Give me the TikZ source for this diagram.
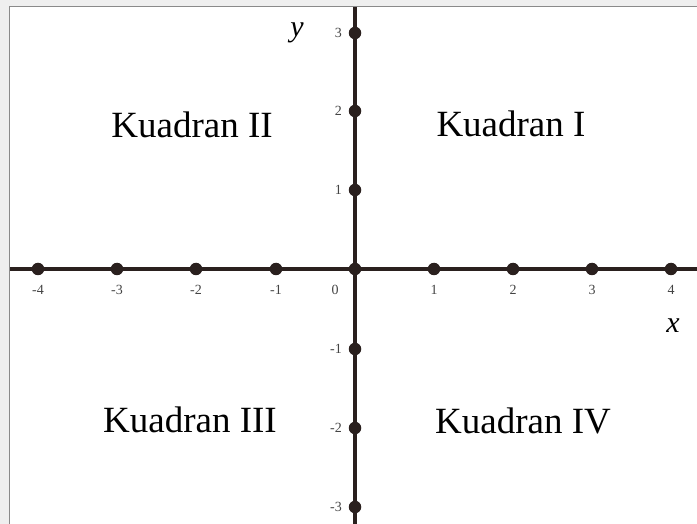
\documentclass[tikz,border=0pt]{standalone}
\usepackage{fontspec}
\setmainfont{Liberation Serif}
\definecolor{axiscol}{HTML}{2A201E}
\definecolor{ticktxt}{HTML}{444444}
\definecolor{bandcol}{HTML}{EFEFEF}
\definecolor{framecol}{HTML}{8A8A8A}
\begin{document}
\begin{tikzpicture}[x=1pt,y=-1pt,
  axisline/.style={draw=axiscol,line width=3.2pt},
  dot/.style={circle,fill=axiscol,inner sep=0pt,minimum size=12.5pt},
  ticklab/.style={text=ticktxt,font=\fontsize{14}{14}\selectfont,inner sep=0pt},
  quad/.style={font=\fontsize{37}{37}\selectfont,inner sep=0pt,text=black},
  axlab/.style={font=\fontsize{30}{30}\selectfont\itshape,inner sep=0pt}]
\useasboundingbox (0,0) rectangle (697,524);
% frame
\fill[bandcol] (0,0) rectangle (697,6);
\fill[bandcol] (0,0) rectangle (9,524);
\draw[framecol,line width=1.2pt] (9.6,524) -- (9.6,6.6) -- (697,6.6);
% axes
\coordinate (xl) at (10,269);
\coordinate (xr) at (697,269);
\coordinate (yt) at (355,7);
\coordinate (yb) at (355,524);
\draw[axisline] (xl) -- (xr);
\draw[axisline] (yt) -- (yb);
% x ticks
\foreach \i/\px in {-4/38,-3/117,-2/196,-1/276,1/434,2/513,3/592,4/671}{
  \node[dot] (dx\i) at (\px,269) {};
  \node[ticklab] (lx\i) at (\px,290) {\i};
}
\node[dot] (origin) at (355,269) {};
\node[ticklab] (l0) at (335,290) {0};
% y ticks
\foreach \i/\py in {3/33,2/111,1/190,-1/349,-2/428,-3/507}{
  \node[dot] (dy\i) at (355,\py) {};
  \node[ticklab,anchor=east] (ly\i) at (342,\py) {\i};
}
% axis labels
\node[axlab] (ylab) at (297,33) {y};
\node[axlab] (xlab) at (673,326) {x};
% quadrant labels
\node[quad] (q2) at (192,125) {Kuadran II};
\node[quad] (q1) at (511,124) {Kuadran I};
\node[quad] (q3) at (190,420) {Kuadran III};
\node[quad] (q4) at (523,421) {Kuadran IV};
\end{tikzpicture}
\end{document}
